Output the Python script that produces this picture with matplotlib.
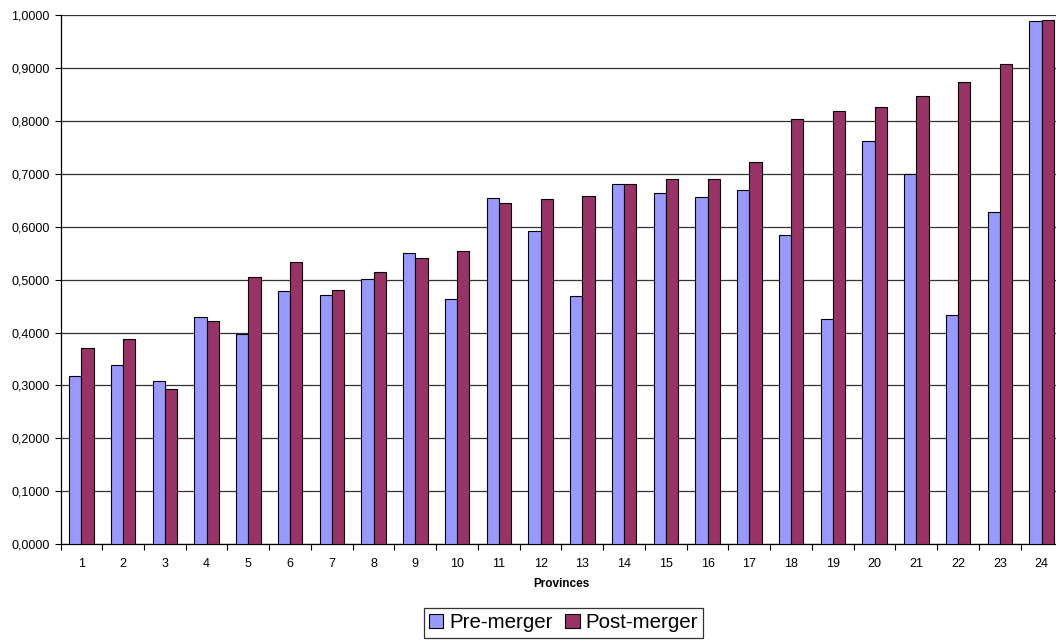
import matplotlib.pyplot as plt
import numpy as np
from matplotlib.ticker import FuncFormatter

plt.rcParams['font.family'] = ['Liberation Sans', 'DejaVu Sans']

provinces = [str(i) for i in range(1, 25)]
pre_merger = [0.317, 0.339, 0.308, 0.429, 0.397, 0.478, 0.471, 0.501,
              0.551, 0.463, 0.655, 0.593, 0.469, 0.681, 0.665, 0.657,
              0.669, 0.584, 0.426, 0.762, 0.701, 0.433, 0.629, 0.989]
post_merger = [0.370, 0.388, 0.293, 0.422, 0.506, 0.533, 0.480, 0.514,
               0.541, 0.554, 0.645, 0.653, 0.658, 0.681, 0.690, 0.690,
               0.723, 0.804, 0.819, 0.826, 0.847, 0.875, 0.908, 0.992]

x = np.arange(len(provinces))
w = 0.292

fig = plt.figure(figsize=(10.56, 6.4), dpi=100)
ax = fig.add_axes([0.0573, 0.15, 0.9488, 0.8258])

ax.bar(x - w / 2, pre_merger, w, color='#9999FF', edgecolor='black',
       linewidth=0.8, label='Pre-merger', zorder=3)
ax.bar(x + w / 2, post_merger, w, color='#993366', edgecolor='black',
       linewidth=0.8, label='Post-merger', zorder=3)

ax.set_xlim(-0.5, len(provinces) - 0.5)
ax.set_ylim(0, 1.0)
ax.set_yticks(np.arange(0, 1.01, 0.1))
ax.yaxis.set_major_formatter(FuncFormatter(lambda v, p: f"{v:.4f}".replace('.', ',')))
ax.yaxis.grid(True, color='#333333', linewidth=0.9, zorder=0)

ax.set_xticks(x)
ax.set_xticklabels(provinces)
ax.set_xticks(np.arange(-0.5, len(provinces), 1.0), minor=True)
ax.tick_params(axis='x', which='major', length=0, pad=10, labelsize=9)
ax.tick_params(axis='x', which='minor', length=4, width=0.8, direction='out')
ax.tick_params(axis='y', length=4, width=0.8, labelsize=9, pad=4)

for s in ['top', 'right']:
    ax.spines[s].set_visible(False)
for s in ['left', 'bottom']:
    ax.spines[s].set_linewidth(0.9)

ax.set_xlabel('Provinces', fontsize=8.5, fontweight='bold', labelpad=6)

leg = fig.legend(loc='center', bbox_to_anchor=(0.5336, 0.0266), ncol=2,
                 fontsize=14.8, frameon=True, fancybox=False, edgecolor='black',
                 handlelength=0.7, handleheight=0.7, handletextpad=0.3,
                 columnspacing=0.6, borderpad=0.25, borderaxespad=0)
leg.get_frame().set_linewidth(0.9)

fig.savefig('out.png', dpi=100)
